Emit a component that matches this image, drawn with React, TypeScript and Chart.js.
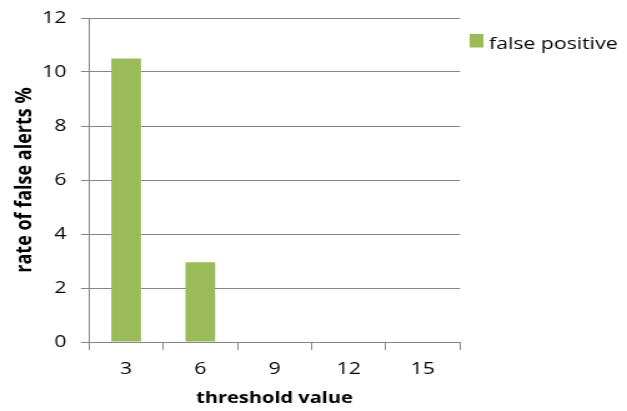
import React, { useEffect, useRef } from "react";
import { Chart, registerables } from "chart.js";

Chart.register(...registerables);

const thresholds = ["3", "6", "9", "12", "15"];
const falsePositive = [10.5, 2.95, 0, 0, 0];
const seriesName = "false positive";
const xTitle = "threshold value";
const yTitle = "rate of false alerts %";

const GRID = "#868686";
const BAR = "#9BBB59";
const FONT = "'Open Sans', Lato, sans-serif";

// The chart is laid out on a narrower canvas and widened with CSS,
// giving the wide, squat lettering of the output.
const OUT_W = 627;
const OUT_H = 411;
const CANVAS_W = 502;
const STRETCH = OUT_W / CANVAS_W;

const legendPlugin = {
  id: "sideLegend",
  afterDraw(chart: Chart) {
    const ctx = chart.ctx;
    const area = chart.chartArea;
    ctx.save();
    const x = area.right + 7.7;
    ctx.fillStyle = BAR;
    ctx.fillRect(x, area.top + 16, 11, 13.5);
    ctx.fillStyle = "#000";
    ctx.font = `17px ${FONT}`;
    ctx.textBaseline = "alphabetic";
    ctx.textAlign = "left";
    ctx.fillText(seriesName, x + 15.5, area.top + 30.5);
    ctx.restore();
  },
};

export default function App() {
  const ref = useRef<HTMLCanvasElement>(null);
  useEffect(() => {
    if (!ref.current) return;
    const chart = new Chart(ref.current, {
      type: "bar",
      data: {
        labels: thresholds,
        datasets: [
          {
            label: seriesName,
            data: falsePositive,
            backgroundColor: BAR,
            barPercentage: 0.4,
            categoryPercentage: 1,
          },
        ],
      },
      options: {
        animation: false,
        responsive: false,
        layout: { padding: { left: 0, top: 18, right: CANVAS_W - 460 / STRETCH, bottom: 0 } },
        plugins: { legend: { display: false }, tooltip: { enabled: false } },
        scales: {
          x: {
            afterFit(scale: any) {
              scale.height = 69;
              scale.paddingLeft = 0;
              scale.paddingRight = 0;
            },
            grid: {
              offset: true,
              drawOnChartArea: false,
              drawTicks: true,
              tickLength: 8,
              color: GRID,
            },
            border: { display: true, color: GRID },
            ticks: { color: "#000", font: { family: FONT, size: 17 }, padding: 9 },
            title: {
              display: true,
              text: xTitle,
              color: "#000",
              font: { family: FONT, size: 16, weight: "bold" },
              padding: { top: 0, bottom: 3 },
            },
          },
          y: {
            min: 0,
            max: 12,
            afterFit(scale: any) {
              scale.width = 89 / STRETCH;
              scale.paddingTop = 0;
              scale.paddingBottom = 0;
            },
            ticks: { stepSize: 2, color: "#000", font: { family: FONT, size: 17 }, padding: 11.7 },
            grid: { color: GRID, tickLength: 8 / STRETCH },
            border: { display: true, color: GRID },
            title: {
              display: true,
              text: yTitle,
              color: "#000",
              font: { family: FONT, size: 18, weight: "bold" },
              padding: { top: 9.2, bottom: 0 },
            },
          },
        },
      },
      plugins: [legendPlugin],
    });
    return () => chart.destroy();
  }, []);
  return (
    <div
      style={{
        position: "fixed",
        left: 0,
        top: 0,
        width: OUT_W,
        height: OUT_H,
        overflow: "hidden",
        background: "#fff",
      }}
    >
      <canvas
        ref={ref}
        width={CANVAS_W}
        height={OUT_H}
        style={{ transform: `scaleX(${STRETCH})`, transformOrigin: "0 0", display: "block" }}
      />
    </div>
  );
}
